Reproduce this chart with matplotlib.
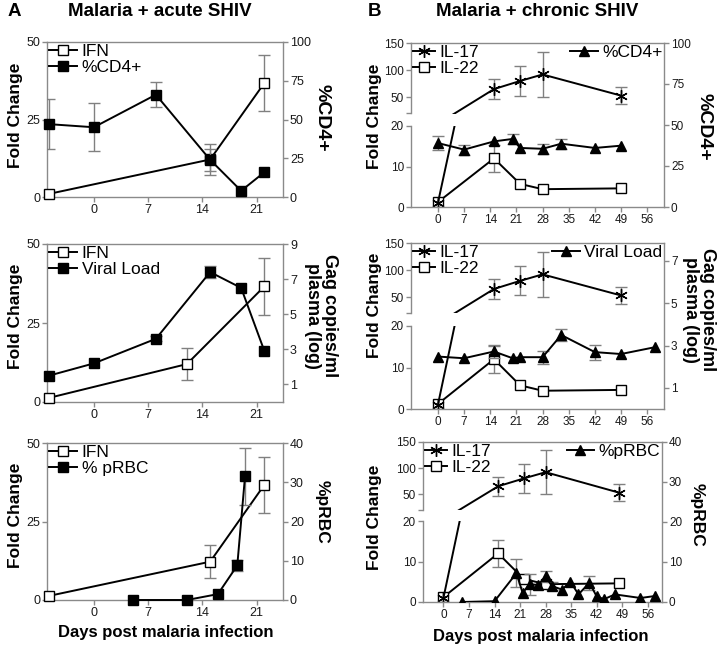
import numpy as np
import matplotlib
matplotlib.use('Agg')
import matplotlib.pyplot as plt
from matplotlib.lines import Line2D

plt.rcParams['font.family'] = ['Liberation Sans', 'DejaVu Sans']

W, H = 720, 648

# ---------------- Data ----------------
# Panel A: Malaria + acute SHIV
a_ifn_days1 = [-5.8, 15, 22]
a_ifn_vals1 = [1.0, 12.1, 36.8]
a_ifn_err1 = [0, 5.0, 9.0]
a_cd4_days = [-5.8, 0, 8, 15, 19, 22]
a_cd4_vals = [47, 45, 66, 24, 4, 16]
a_cd4_err = [16, 15.5, 8, 7, 0, 0]

a_ifn_days2 = [-5.8, 12, 22]
a_ifn_vals2 = [1.3, 12.0, 36.6]
a_ifn_err2 = [0, 5.0, 9.0]
a_vl_days = [-5.8, 0, 8, 15, 19, 22]
a_vl_vals = [1.5, 2.2, 3.6, 7.4, 6.5, 2.9]
a_vl_err = [0, 0, 0.15, 0.35, 0, 0]

a_ifn_days3 = [-5.8, 15, 22]
a_ifn_vals3 = [1.3, 12.2, 36.7]
a_ifn_err3 = [0, 5.2, 9.0]
a_prbc_days = [5, 12, 16, 18.5, 19.5]
a_prbc_vals = [0, 0, 1.5, 8.8, 31.5]
a_prbc_err = [0, 0, 0, 1.5, 7.3]

# Panel B: Malaria + chronic SHIV
b_il_days = [0, 15, 22, 28, 49]
b_il_days_c = [0, 15, 22, 28, 48]
b_il17_vals = [1, 65, 80, 92, 53]
b_il17_err = [0, 18, 27, 42, 16]
b_il22_vals = [1.2, 12.0, 5.7, 4.4, 4.6]
b_il22_err = [0, 3.3, 0, 0, 0]

b_cd4_days = [0, 7, 15, 20, 22, 28, 33, 42, 49]
b_cd4_vals = [39, 35, 40, 41.5, 36, 35.5, 38.6, 36, 37.4]
b_cd4_err = [4, 3, 0, 3, 0, 3, 3, 0, 0]

b_vl_days = [0, 7, 15, 20, 22, 28, 33, 42, 49, 58]
b_vl_vals = [2.48, 2.4, 2.72, 2.4, 2.45, 2.45, 3.5, 2.69, 2.6, 2.92]
b_vl_err = [0, 0, 0.3, 0, 0, 0.3, 0.3, 0.35, 0, 0]

b_prbc_days = [5, 14, 20, 21.7, 23.6, 26, 28, 29.7, 32.5, 34.8, 37, 40, 42, 44, 47, 54, 58]
b_prbc_vals = [0, 0.2, 7.2, 2.3, 4.4, 4.3, 6.4, 4.0, 3.1, 5.1, 1.9, 4.8, 1.4, 0.7, 1.9, 1.0, 1.5]
b_prbc_err = [0, 0, 3.5, 0, 2.7, 0, 1.3, 1.0, 0, 0, 0, 1.8, 0, 0, 0, 0, 0]

a_xticks = [0, 7, 14, 21]
b_xticks = [0, 7, 14, 21, 28, 35, 42, 49, 56]

# ---------------- Styling ----------------
SPINE = '#8a8a8a'
ECOL = '#808080'
TXT = '#1a1a1a'

fig = plt.figure(figsize=(W / 100, H / 100), dpi=100)


def px_axes(l, t, r, b):
    ax = fig.add_axes([l / W, 1 - b / H, (r - l) / W, (b - t) / H])
    ax.patch.set_visible(False)
    return ax


def style(ax, left=True, right=False, bottom=True, top=True, lsize=9):
    for s, v in zip(['left', 'right', 'bottom', 'top'], [left, right, bottom, top]):
        ax.spines[s].set_visible(v)
        ax.spines[s].set_color(SPINE)
        ax.spines[s].set_linewidth(1.0)
    ax.tick_params(colors=SPINE, labelcolor=TXT, length=3.5, width=1,
                   labelsize=lsize, pad=1.5)


def series(ax, x, y, err, marker, mfc, ms, clip=True, z=3, mew=1.0, show_err=True):
    x = np.asarray(x, float)
    y = np.asarray(y, float)
    e = np.asarray(err, float)
    m = e > 0
    if show_err and m.any():
        ax.errorbar(x[m], y[m], yerr=e[m], fmt='none', ecolor=ECOL, elinewidth=1,
                    capsize=4, capthick=1, zorder=z - 1)
    ax.plot(x, y, color='black', lw=1.4, marker=marker, mfc=mfc, mec='black',
            ms=ms, mew=mew, zorder=z, clip_on=clip)


def handle(marker, mfc, ms):
    return Line2D([], [], color='black', lw=1.4, marker=marker, mfc=mfc,
                  mec='black', ms=ms, mew=1.0)


def ftext(x, y, s, **kw):
    fig.text(x / W, 1 - y / H, s, **kw)


SQ = 6.5
TRI = 7.5
AST = (6, 2, 0)


def panel_a(t, b, ifn_x, ifn_y, ifn_e, r_x, r_y, r_e, r_lim, r_ticks, r_leg):
    ax = px_axes(47, t, 283, b)
    ax.set_xlim(-6.05, 24.4)
    ax.set_ylim(0, 50)
    ax.set_yticks([0, 25, 50])
    ax.set_xticks(a_xticks)
    style(ax, right=False)
    ax2 = ax.twinx()
    ax2.patch.set_visible(False)
    ax2.set_ylim(*r_lim)
    ax2.set_yticks(r_ticks)
    style(ax2, left=False, right=True, bottom=False, top=False)
    series(ax, ifn_x, ifn_y, ifn_e, 's', 'white', SQ, clip=False)
    series(ax2, r_x, r_y, r_e, 's', 'black', SQ, clip=False)
    ax2.legend([handle('s', 'white', SQ), handle('s', 'black', SQ)],
               ['IFN', r_leg], loc='upper left', bbox_to_anchor=(0.0, 1.0),
               frameon=False, fontsize=12.5, handlelength=1.6,
               handletextpad=0.3, labelspacing=0.05, borderpad=0.1,
               borderaxespad=0.0)
    return ax, ax2


def panel_b(t, b, l, r, xlim, yhi, ylo, il_x, rx, ry, re_, rlim, rticks, rleg, rmarker):
    # lower (0-20) and upper (20-150) segments of the broken fold-change axis
    ax_lo = px_axes(l, ylo, r, b)
    ax_hi = px_axes(l, t, r, yhi)
    for a in (ax_lo, ax_hi):
        a.set_xlim(*xlim)
        a.set_xticks([])
        style(a, left=True, right=False, bottom=False, top=False, lsize=8.5)
    ax_lo.set_ylim(0, 20)
    ax_lo.set_yticks([0, 10, 20])
    ax_hi.set_ylim(20, 150)
    ax_hi.set_yticks([20, 50, 100, 150])
    ax_hi.set_yticklabels(['', '50', '100', '150'])
    # IL-22 lives entirely in the lower segment; IL-17 crosses the break
    series(ax_lo, il_x, b_il22_vals, b_il22_err, 's', 'white', SQ, z=4)
    series(ax_lo, il_x, b_il17_vals, b_il17_err, AST, 'black', 9, z=4, show_err=False)
    series(ax_hi, il_x, b_il17_vals, b_il17_err, AST, 'black', 9, z=4)
    ax = px_axes(l, t, r, b)
    ax.set_xlim(*xlim)
    ax.set_ylim(*rlim)
    ax.set_yticks(rticks)
    ax.set_xticks(b_xticks)
    ax.yaxis.tick_right()
    style(ax, left=False, right=True, bottom=True, top=True, lsize=8.5)
    series(ax, rx, ry, re_, rmarker, 'black', TRI, z=3)
    ax_hi.legend([handle(AST, 'black', 9), handle('s', 'white', SQ)], ['IL-17', 'IL-22'],
                 loc='upper left', bbox_to_anchor=(0.0, 1.0), frameon=False,
                 fontsize=12.5, handlelength=1.3, handletextpad=0.25,
                 labelspacing=0.05, borderpad=0.1, borderaxespad=0.0)
    ax.legend([handle(rmarker, 'black', TRI)], [rleg], loc='upper right',
              bbox_to_anchor=(1.0, 1.0), frameon=False, fontsize=12.5,
              handlelength=1.6, handletextpad=0.25, borderpad=0.1,
              borderaxespad=0.0)
    return ax


# ---- Panel A ----
panel_a(42, 197, a_ifn_days1, a_ifn_vals1, a_ifn_err1,
        a_cd4_days, a_cd4_vals, a_cd4_err, (0, 100), [0, 25, 50, 75, 100], '%CD4+')
panel_a(244, 402, a_ifn_days2, a_ifn_vals2, a_ifn_err2,
        a_vl_days, a_vl_vals, a_vl_err, (0, 9), [1, 3, 5, 7, 9], 'Viral Load')
panel_a(443, 600, a_ifn_days3, a_ifn_vals3, a_ifn_err3,
        a_prbc_days, a_prbc_vals, a_prbc_err, (0, 40), [0, 10, 20, 30, 40], '% pRBC')

# ---- Panel B ----
panel_b(43, 207, 411, 664, (-7.2, 60.5), 113.5, 126, b_il_days,
        b_cd4_days, b_cd4_vals, b_cd4_err, (0, 100), [0, 25, 50, 75, 100], '%CD4+', '^')
panel_b(243, 409, 411, 664, (-7.2, 60.5), 313.3, 326, b_il_days,
        b_vl_days, b_vl_vals, b_vl_err, (0, 7.85), [1, 3, 5, 7], 'Viral Load', '^')
panel_b(442, 602, 423, 662, (-5.6, 59.9), 509.7, 521, b_il_days_c,
        b_prbc_days, b_prbc_vals, b_prbc_err, (0, 40), [0, 10, 20, 30, 40], '%pRBC', '^')

# ---- Texts ----
bold = dict(fontweight='bold', color='black')
ftext(14, 11, 'A', fontsize=13.5, ha='center', va='center', **bold)
ftext(374, 11, 'B', fontsize=13.5, ha='center', va='center', **bold)
ftext(160, 12, 'Malaria + acute SHIV', fontsize=13.5, ha='center', va='center', **bold)
ftext(537, 12, 'Malaria + chronic SHIV', fontsize=13.5, ha='center', va='center', **bold)

for yc in (115, 316, 515):
    ftext(16, yc, 'Fold Change', fontsize=12.5, rotation=90, ha='center', va='center', **bold)
for yc in (116, 305, 517):
    ftext(375, yc, 'Fold Change', fontsize=12.5, rotation=90, ha='center', va='center', **bold)

ftext(322, 118, '%CD4+', fontsize=14, rotation=270, ha='center', va='center', **bold)
ftext(321, 316, 'Gag copies/ml\nplasma (log)', fontsize=13, rotation=270, ha='center',
      va='center', multialignment='center', linespacing=1.0, **bold)
ftext(322, 512, '%pRBC', fontsize=12.5, rotation=270, ha='center', va='center', **bold)

ftext(704, 127, '%CD4+', fontsize=14, rotation=270, ha='center', va='center', **bold)
ftext(699, 310, 'Gag copies/ml\nplasma (log)', fontsize=13, rotation=270, ha='center',
      va='center', multialignment='center', linespacing=1.0, **bold)
ftext(697, 515, '%pRBC', fontsize=12.5, rotation=270, ha='center', va='center', **bold)

ftext(166, 632, 'Days post malaria infection', fontsize=12, ha='center', va='center', **bold)
ftext(541, 637, 'Days post malaria infection', fontsize=12, ha='center', va='center', **bold)

fig.savefig('out.png', dpi=100)
